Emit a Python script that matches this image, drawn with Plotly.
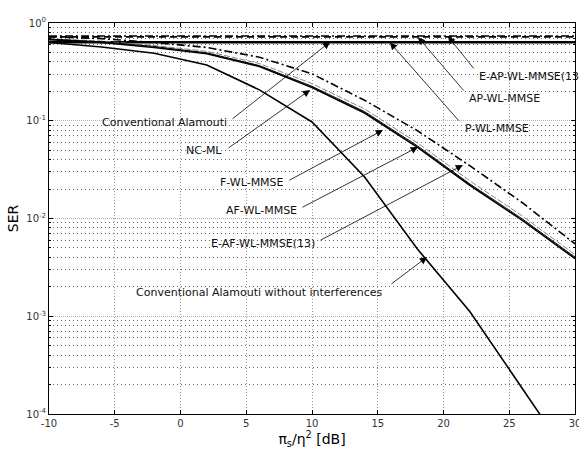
import plotly.graph_objects as go

# ---------------- data ----------------
snr_db = [-10, -6, -2, 2, 6, 10, 14, 18, 22, 26, 30]

ser_conv_alamouti = [0.631, 0.631, 0.631, 0.631, 0.631, 0.631, 0.631, 0.631, 0.631, 0.631, 0.631]
ser_p_wl_mmse = [0.642, 0.642, 0.642, 0.642, 0.642, 0.642, 0.642, 0.642, 0.642, 0.642, 0.642]
ser_ap_wl_mmse = [0.722, 0.722, 0.722, 0.722, 0.722, 0.722, 0.722, 0.722, 0.722, 0.722, 0.722]
ser_e_ap_wl_mmse = [0.735, 0.735, 0.735, 0.735, 0.735, 0.735, 0.735, 0.735, 0.735, 0.735, 0.735]

ser_nc_ml = [0.676, 0.631, 0.562, 0.484, 0.359, 0.219, 0.120, 0.0537, 0.0219, 0.00955, 0.00389]
ser_f_wl_mmse = [0.684, 0.643, 0.575, 0.495, 0.367, 0.225, 0.124, 0.0556, 0.0226, 0.00989, 0.00403]
ser_af_wl_mmse = [0.692, 0.653, 0.589, 0.513, 0.385, 0.240, 0.132, 0.0596, 0.0243, 0.0106, 0.00427]
ser_e_af_wl_mmse = [0.724, 0.692, 0.631, 0.562, 0.447, 0.302, 0.162, 0.0794, 0.0347, 0.0145, 0.0055]
ser_no_interf = [0.631, 0.569, 0.490, 0.372, 0.207, 0.0971, 0.0266, 0.00490, 0.00112, 0.000182, 0.0000295]

y_tick_vals = [1e-4, 1e-3, 1e-2, 1e-1, 1]
y_tick_text = ["10<sup>-4</sup>", "10<sup>-3</sup>", "10<sup>-2</sup>", "10<sup>-1</sup>", "10<sup>0</sup>"]
x_tick_vals = [-10, -5, 0, 5, 10, 15, 20, 25, 30]
x_tick_text = ["-10", "-5", "0", "5", "10", "15", "20", "25", "30"]

# ---------------- figure ----------------
FONT = "DejaVu Sans"
fig = go.Figure()

series = [
    ("Conventional Alamouti", ser_conv_alamouti, dict(color="black", width=2, dash="solid")),
    ("P-WL-MMSE", ser_p_wl_mmse, dict(color="black", width=1.6, dash="solid")),
    ("AP-WL-MMSE", ser_ap_wl_mmse, dict(color="black", width=1.6, dash="7px,4px")),
    ("E-AP-WL-MMSE(13)", ser_e_ap_wl_mmse, dict(color="black", width=1.6, dash="8px,3px,2px,3px")),
    ("AF-WL-MMSE", ser_af_wl_mmse, dict(color="#888888", width=1, dash="6px,2px")),
    ("F-WL-MMSE", ser_f_wl_mmse, dict(color="black", width=1, dash="solid")),
    ("NC-ML", ser_nc_ml, dict(color="black", width=1.6, dash="solid")),
    ("E-AF-WL-MMSE(13)", ser_e_af_wl_mmse, dict(color="black", width=1.6, dash="8px,3px,2px,3px")),
    ("Conventional Alamouti without interferences", ser_no_interf, dict(color="black", width=1.6, dash="solid")),
]
for name, vals, line in series:
    fig.add_trace(go.Scatter(x=snr_db, y=vals, mode="lines", name=name, line=line, showlegend=False))

# labels: (text, text x, text log-y, anchor, tail x, tail log-y, tip x, tip log-y)
labels = [
    ("Conventional Alamouti", 3.69, -1.013, "right", 3.84, -0.992, 11.37, -0.194),
    ("NC-ML", 3.31, -1.309, "right", 3.54, -1.289, 9.85, -0.685),
    ("F-WL-MMSE", 8.02, -1.627, "right", 8.17, -1.616, 15.40, -1.095),
    ("AF-WL-MMSE", 9.01, -1.913, "right", 9.16, -1.893, 18.06, -1.269),
    ("E-AF-WL-MMSE(13)", 10.38, -2.251, "right", 10.53, -2.230, 21.48, -1.453),
    ("Conventional Alamouti without interferences", 15.55, -2.762, "right", 15.93, -2.680, 18.75, -2.394),
    ("P-WL-MMSE", 21.48, -1.084, "left", 21.25, -1.013, 15.93, -0.200),
    ("AP-WL-MMSE", 21.79, -0.777, "left", 21.63, -0.706, 18.06, -0.145),
    ("E-AP-WL-MMSE(13)", 22.55, -0.552, "left", 22.40, -0.481, 20.34, -0.138),
]
annotations = []
for text, tx, ty, anchor, ax_, ay_, hx, hy in labels:
    annotations.append(dict(x=tx, y=ty, xref="x", yref="y", text=text, showarrow=False,
                            xanchor=anchor, yanchor="middle",
                            font=dict(family=FONT, size=11, color="#111111")))
    annotations.append(dict(x=hx, y=hy, xref="x", yref="y", ax=ax_, ay=ay_, axref="x", ayref="y",
                            text="", showarrow=True, arrowhead=2, arrowsize=1.8, arrowwidth=0.8,
                            arrowcolor="black", standoff=0, startstandoff=0))

minor_vals = []
for e in [1e-4, 1e-3, 1e-2, 1e-1]:
    for k in range(2, 10):
        minor_vals.append(round(k * e, 8))

fig.update_layout(
    width=579, height=450,
    margin=dict(l=49, r=4, t=23, b=36),
    paper_bgcolor="white", plot_bgcolor="white",
    font=dict(family=FONT, color="#222222"),
    annotations=annotations,
    xaxis=dict(
        range=[-10, 30], tickvals=x_tick_vals, ticktext=x_tick_text, automargin=False,
        ticklabeloverflow="allow",
        showgrid=True, gridcolor="#9a9a9a", griddash="1px,2px", gridwidth=1,
        ticks="inside", ticklen=4, tickcolor="black",
        showline=True, linecolor="black", linewidth=1, mirror="ticks",
        zeroline=False, tickfont=dict(family=FONT, size=10, color="#333333"),
        title=dict(text="π<sub>s</sub>/η<sup>2</sup> [dB]", font=dict(family=FONT, size=14, color="black"), standoff=0),
    ),
    yaxis=dict(
        type="log", range=[-4, 0], tickvals=y_tick_vals, ticktext=y_tick_text, automargin=False,
        showgrid=True, gridcolor="#b0b0b0", griddash="1px,1px", gridwidth=1,
        ticks="inside", ticklen=4, tickcolor="black",
        showline=True, linecolor="black", linewidth=1, mirror="ticks",
        zeroline=False, tickfont=dict(family=FONT, size=10, color="#333333"),
        minor=dict(tickvals=minor_vals, ticks="inside", ticklen=2, tickcolor="black",
                   showgrid=True, gridcolor="#666666", griddash="1px,3px", gridwidth=1),
        title=dict(text="SER", font=dict(family=FONT, size=14, color="black"), standoff=4),
    ),
)

fig.write_html("out.html", config={"displayModeBar": False},
               post_script="document.body.style.margin='0';")
